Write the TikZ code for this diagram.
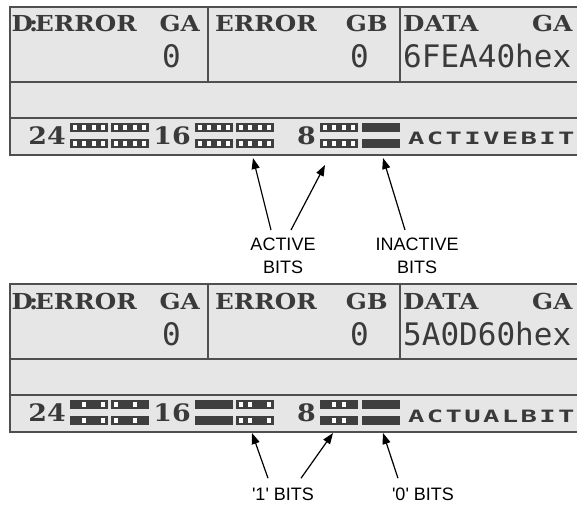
\documentclass[tikz,border=0pt]{standalone}
\usepackage{fontspec}
\setmainfont{Liberation Sans}
\newfontfamily\slabfont[FakeStretch=1.12]{DejaVu Serif}
\newfontfamily\valfont{DejaVu Sans Mono}
\newfontfamily\tagfont[FakeStretch=1.6,LetterSpace=14]{DejaVu Sans Mono}
\usetikzlibrary{arrows.meta, positioning}
\definecolor{panelbg}{HTML}{E6E6E6}
\definecolor{paneledge}{HTML}{4F4F4F}
\definecolor{paneltext}{HTML}{3A3A3A}
\definecolor{bardark}{HTML}{3F3F3F}

\newcommand{\nibble}[6]{%
  \fill[bardark] (#1,#2) rectangle ++(38,9);
  \foreach \bit [count=\k from 0] in {#3,#4,#5,#6}
    {\ifnum\bit=1 \fill[white] (#1+3.2+\k*9.2,#2+1.7) rectangle ++(4,5.6);\fi}}

\newcommand{\lcdpanel}[3]{%
  \fill[panelbg] (10,7) rectangle (600,155);
  \draw[edge] (10,82) -- (600,82);
  \draw[edge] (10,118) -- (600,118);
  \draw[edge] (208,7) -- (208,82);
  \draw[edge] (400,7) -- (400,82);
  \draw[edge, line width=2pt] (10,7) rectangle (600,155);
  \node[slab, anchor=base west] (#1id)   at (11.5,32) {D\kern-4pt:\kern-3pt ERROR};
  \node[slab, anchor=base east] (#1ga)   at (200,32) {GA};
  \node[slab, anchor=base west] (#1err)  at (215,32) {ERROR};
  \node[slab, anchor=base east] (#1gb)   at (388,32) {GB};
  \node[slab, anchor=base west] (#1data) at (403,32) {DATA};
  \node[slab, anchor=base west] (#1gc)   at (532,32) {GA};
  \node[val, anchor=base east]  (#1vala) at (181,68) {0};
  \node[val, anchor=base east]  (#1valb) at (369,68) {0};
  \node[val, anchor=base west]  (#1valc) at (403,68) {#2hex};
  \node[num, anchor=base east]  (#1n24)  at (66,144)  {24};
  \node[num, anchor=base east]  (#1n16)  at (191,144) {16};
  \node[num, anchor=base east]  (#1n8)   at (316,144) {8};
  \node[tag, anchor=base west]  (#1tag)  at (408,145) {#3};
}

\begin{document}
\begin{tikzpicture}[
  x=1pt, y=-1pt,
  edge/.style={draw=paneledge, line width=1.5pt},
  slab/.style={inner sep=0pt, text=paneltext, font=\slabfont\bfseries\fontsize{22}{22}\selectfont},
  num/.style={slab, font=\slabfont\bfseries\fontsize{24}{24}\selectfont},
  val/.style={inner sep=0pt, text=paneltext, font=\valfont\fontsize{31}{31}\selectfont},
  tag/.style={inner sep=0pt, text=paneltext, font=\tagfont\bfseries\fontsize{17}{17}\selectfont},
  lbl/.style={inner sep=0pt, align=center, font=\fontsize{18}{23}\selectfont},
  arw/.style={-{Triangle[length=11pt, width=8pt]}, line width=1.2pt}
]
  \useasboundingbox (0,0) rectangle (577,505);
  \clip (0,0) rectangle (577,505);

  \lcdpanel{t}{6FEA40}{ACTIVEBIT}
  \foreach \px/\ba/\bb/\bc/\bd in {70/1/1/1/1, 111/1/1/1/1, 195/1/1/1/1,
                                   236/1/1/1/1, 320/1/1/1/1, 362/0/0/0/0}
    \foreach \py in {123,139} {\nibble{\px}{\py}{\ba}{\bb}{\bc}{\bd}}

  \begin{scope}[shift={(0,277)}]
    \lcdpanel{b}{5A0D60}{ACTUALBIT}
    \foreach \px/\ba/\bb/\bc/\bd in {70/0/1/0/1, 111/1/0/1/0, 195/0/0/0/0,
                                     236/1/1/0/1, 320/0/1/1/0, 362/0/0/0/0}
      \foreach \py in {123,139} {\nibble{\px}{\py}{\ba}{\bb}{\bc}{\bd}}
  \end{scope}

  \node[lbl, anchor=north] (active)   at (283,238) {ACTIVE\\BITS};
  \node[lbl, anchor=north] (inactive) at (417,238) {INACTIVE\\BITS};
  \node[lbl, anchor=base]  (ones)     at (283,500) {\textquotesingle1\textquotesingle{} BITS};
  \node[lbl, anchor=base]  (zeros)    at (423,500) {\textquotesingle0\textquotesingle{} BITS};

  \coordinate (actA) at (253,158);
  \coordinate (actB) at (325,165);
  \coordinate (inact) at (383,158);
  \coordinate (oneA) at (252,433);
  \coordinate (oneB) at (333,433);
  \coordinate (zero) at (383,433);

  \draw[arw] ([xshift=-12pt, yshift=8pt]active.north) -- (actA);
  \draw[arw] ([xshift=8pt, yshift=8pt]active.north) -- (actB);
  \draw[arw] ([xshift=-12pt, yshift=8pt]inactive.north) -- (inact);
  \draw[arw] ([xshift=-15pt, yshift=9pt]ones.north) -- (oneA);
  \draw[arw] ([xshift=18pt, yshift=9pt]ones.north) -- (oneB);
  \draw[arw] ([xshift=-25pt, yshift=9pt]zeros.north) -- (zero);
\end{tikzpicture}
\end{document}
